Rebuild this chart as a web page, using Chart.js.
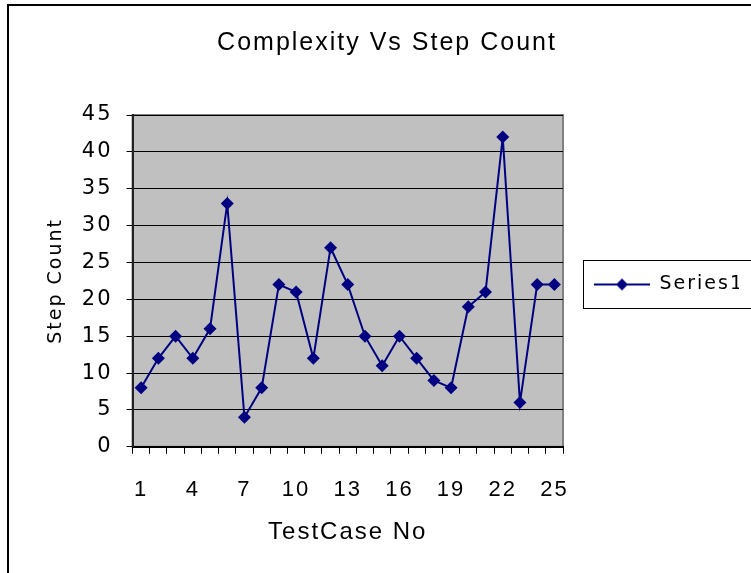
<!DOCTYPE html>
<html>
<head>
<meta charset="utf-8">
<script src="https://cdn.jsdelivr.net/npm/chart.js@4/dist/chart.umd.min.js"></script>
<style>
html, body { margin: 0; padding: 0; background: #fff; overflow: hidden; }
#frame { position: absolute; left: 7px; top: 4px; width: 820px; height: 640px; border: 2px solid #000; }
#frame canvas { display: block; }
</style>
</head>
<body>
<div id="frame"><canvas id="stepChart" width="760" height="620"></canvas></div>
<script>
// chart values
const testCases = [1, 2, 3, 4, 5, 6, 7, 8, 9, 10, 11, 12, 13, 14, 15, 16, 17, 18, 19, 20, 21, 22, 23, 24, 25];
const stepCounts = [8, 12, 15, 12, 16, 33, 4, 8, 22, 21, 12, 27, 22, 15, 11, 15, 12, 9, 8, 19, 21, 42, 6, 22, 22];
const shownLabels = [1, 4, 7, 10, 13, 16, 19, 22, 25];
const yMin = 0, yMax = 45, yStep = 5;

const navy = "#000080";

// legend marker: line with a diamond on it
function makeLegendMarker() {
    const c = document.createElement("canvas");
    c.width = 56;
    c.height = 14;
    const g = c.getContext("2d");
    g.strokeStyle = navy;
    g.lineWidth = 2;
    g.beginPath();
    g.moveTo(0, 7);
    g.lineTo(56, 7);
    g.stroke();
    g.fillStyle = navy;
    g.beginPath();
    g.moveTo(28, 1);
    g.lineTo(34, 7);
    g.lineTo(28, 13);
    g.lineTo(22, 7);
    g.closePath();
    g.fill();
    return c;
}

// wide-spaced lettering like the original
const spacingPlugin = {
    id: "spacing",
    beforeUpdate(chart) { chart.ctx.letterSpacing = "2px"; },
    beforeDraw(chart) { chart.ctx.letterSpacing = "2px"; }
};

// gray plot area with a thin frame
const plotAreaPlugin = {
    id: "plotArea",
    beforeDraw(chart) {
        const { ctx, chartArea } = chart;
        ctx.save();
        ctx.fillStyle = "#c0c0c0";
        ctx.fillRect(chartArea.left, chartArea.top, chartArea.right - chartArea.left, chartArea.bottom - chartArea.top);
        ctx.strokeStyle = "#808080";
        ctx.lineWidth = 2;
        ctx.strokeRect(chartArea.left, chartArea.top, chartArea.right - chartArea.left, chartArea.bottom - chartArea.top);
        ctx.restore();
    }
};

// box round the legend entry
const legendBoxPlugin = {
    id: "legendBox",
    afterDraw(chart) {
        const box = chart.legend.legendHitBoxes[0];
        if (!box) return;
        const ctx = chart.ctx;
        ctx.save();
        ctx.strokeStyle = "#000";
        ctx.lineWidth = 1;
        ctx.strokeRect(box.left - 10.5, box.top - 14.5, box.width + 60, box.height + 29);
        ctx.restore();
    }
};

const ctx = document.getElementById("stepChart").getContext("2d");
new Chart(ctx, {
    type: "line",
    data: {
        labels: testCases,
        datasets: [{
            label: "Series1",
            data: stepCounts,
            borderColor: navy,
            backgroundColor: navy,
            borderWidth: 2,
            pointStyle: "rectRot",
            pointRadius: 6.5,
            pointHoverRadius: 6.5,
            pointBorderWidth: 0,
            tension: 0
        }]
    },
    options: {
        responsive: false,
        devicePixelRatio: 1,
        animation: false,
        events: [],
        layout: { padding: { left: 26, top: 0, right: 30, bottom: 79 } },
        plugins: {
            title: {
                display: true,
                text: "Complexity Vs Step Count",
                color: "#000",
                font: { family: "Liberation Sans", size: 25, weight: "normal" },
                padding: { top: 22, bottom: 57 }
            },
            legend: {
                position: "right",
                title: { display: true, text: " ", font: { size: 10 }, padding: 2 },
                labels: {
                    color: "#000",
                    font: { family: "DejaVu Sans", size: 19 },
                    usePointStyle: true,
                    pointStyle: makeLegendMarker(),
                    pointStyleWidth: 56,
                    padding: 31
                }
            },
            tooltip: { enabled: false }
        },
        scales: {
            x: {
                offset: true,
                grid: {
                    offset: true,
                    drawOnChartArea: false,
                    color: "#000",
                    tickLength: 7
                },
                border: { color: "#000", width: 2 },
                ticks: {
                    autoSkip: false,
                    maxRotation: 0,
                    color: "#000",
                    padding: 23,
                    font: { family: "Liberation Sans", size: 22 },
                    callback: function (value, index) {
                        const label = testCases[index];
                        return shownLabels.includes(label) ? String(label) : "";
                    }
                },
                title: {
                    display: true,
                    text: "TestCase No",
                    color: "#000",
                    font: { family: "Liberation Sans", size: 24 },
                    padding: { top: -8, bottom: 0 }
                }
            },
            y: {
                min: yMin,
                max: yMax,
                grid: { color: "#000", lineWidth: 1, tickLength: 6 },
                border: { color: "#222", width: 2 },
                ticks: {
                    stepSize: yStep,
                    color: "#000",
                    padding: 14,
                    font: { family: "DejaVu Sans", size: 21 }
                },
                title: {
                    display: true,
                    text: "Step Count",
                    color: "#000",
                    font: { family: "DejaVu Sans", size: 19 },
                    padding: { top: 10, bottom: 0 }
                }
            }
        }
    },
    plugins: [spacingPlugin, plotAreaPlugin, legendBoxPlugin]
});
</script>
</body>
</html>
